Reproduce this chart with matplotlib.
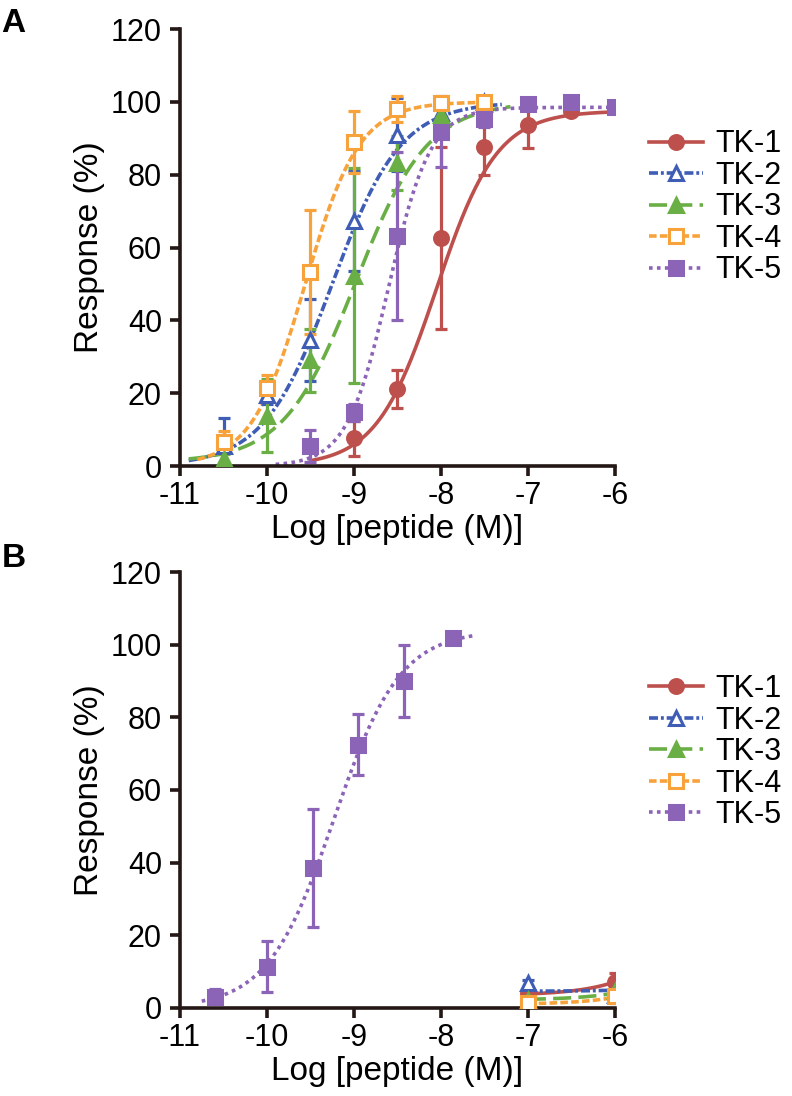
import numpy as np
import matplotlib
matplotlib.use('Agg')
import matplotlib.pyplot as plt
from matplotlib.lines import Line2D

plt.rcParams['font.family'] = ['Liberation Sans', 'DejaVu Sans']
plt.rcParams['axes.unicode_minus'] = False

names = ['TK-1', 'TK-2', 'TK-3', 'TK-4', 'TK-5']
colors = ['#BD504C', '#3F5DB5', '#6AAF45', '#F8A23C', '#8C64B7']
markers = ['o', '^', '^', 's', 's']
filled = [True, False, True, False, True]
dashes = [None, (2.5, 0.8, 0.8, 0.8), (5.0, 2.0), (2.1, 0.9), (1.0, 1.2)]

# panel A - measured points (log M, response %, sem)
a_x = {
    'TK-1': [-9.0, -8.5, -8.0, -7.5, -7.0, -6.5],
    'TK-2': [-10.5, -10.0, -9.5, -9.0, -8.5, -8.0, -7.5],
    'TK-3': [-10.5, -10.0, -9.5, -9.0, -8.5, -8.0, -7.5],
    'TK-4': [-10.5, -10.0, -9.5, -9.0, -8.5, -8.0, -7.5],
    'TK-5': [-9.5, -9.0, -8.5, -8.0, -7.5, -7.0, -6.5, -6.0],
}
a_y = {
    'TK-1': [7.6, 21.2, 62.5, 87.7, 93.7, 97.6],
    'TK-2': [5.5, 19.4, 34.6, 67.3, 91.0, 96.9, 100.0],
    'TK-3': [1.8, 13.8, 29.0, 52.3, 83.2, 96.5, 99.5],
    'TK-4': [6.5, 21.5, 53.2, 89.1, 98.0, 99.7, 100.0],
    'TK-5': [5.5, 14.7, 63.2, 91.8, 95.2, 99.4, 100.0, 98.7],
}
a_err = {
    'TK-1': [4.8, 5.3, 25.0, 7.7, 6.3, 1.0],
    'TK-2': [7.7, 2.5, 11.3, 13.7, 10.0, 1.5, 1.0],
    'TK-3': [1.5, 10.0, 8.7, 29.5, 7.4, 2.0, 1.0],
    'TK-4': [3.0, 3.5, 17.0, 8.5, 3.5, 1.0, 1.0],
    'TK-5': [4.4, 2.2, 23.0, 9.8, 2.0, 1.0, 1.0, 1.0],
}
# fitted curves: bottom, top, logEC50, hill, start, end
a_fit = {
    'TK-1': [0.0, 97.5, -8.05, 1.25, -9.5, -6.1],
    'TK-2': [0.0, 100.0, -9.25, 1.1, -10.9, -7.3],
    'TK-3': [1.0, 100.0, -8.98, 1.05, -10.9, -7.2],
    'TK-4': [0.0, 100.0, -9.56, 1.4, -10.8, -7.6],
    'TK-5': [0.0, 98.5, -8.6, 1.8, -9.9, -6.0],
}

# panel B
b_x = {
    'TK-1': [-7.0, -6.0],
    'TK-2': [-7.0, -6.0],
    'TK-3': [-7.0, -6.0],
    'TK-4': [-7.0, -6.0],
    'TK-5': [-10.6, -10.0, -9.47, -8.95, -8.42, -7.86],
}
b_y = {
    'TK-1': [4.0, 7.2],
    'TK-2': [6.8, 3.7],
    'TK-3': [2.2, 4.6],
    'TK-4': [1.3, 3.2],
    'TK-5': [3.1, 11.4, 38.5, 72.5, 90.0, 101.8],
}
b_err = {
    'TK-1': [1.0, 2.3],
    'TK-2': [1.0, 2.4],
    'TK-3': [0.8, 1.0],
    'TK-4': [0.8, 1.0],
    'TK-5': [2.0, 7.0, 16.2, 8.5, 10.0, 1.5],
}
b_fit = {
    'TK-1': [3.5, 100.0, -4.6, 1.0, -7.0, -6.0],
    'TK-2': [4.6, 100.0, -3.5, 1.0, -7.0, -6.0],
    'TK-3': [2.2, 100.0, -4.3, 1.0, -7.0, -6.0],
    'TK-4': [1.0, 100.0, -4.3, 1.0, -7.0, -6.0],
    'TK-5': [0.0, 104.0, -9.23, 1.14, -10.75, -7.6],
}


def hill(x, bottom, top, ec50, h):
    return bottom + (top - bottom) / (1 + 10 ** ((ec50 - x) * h))


def draw_panel(ax, xs, ys, errs, fits):
    for i, n in enumerate(names):
        c = colors[i]
        b, t, ec, h, x0, x1 = fits[n]
        xx = np.linspace(x0, x1, 200)
        ln, = ax.plot(xx, hill(xx, b, t, ec, h), color=c, lw=2.6, zorder=2)
        if dashes[i] is not None:
            ln.set_dashes(dashes[i])
        ax.errorbar(xs[n], ys[n], yerr=errs[n], fmt='none', ecolor=c,
                    elinewidth=2.3, capsize=4.0, capthick=2.3, zorder=3)
        ax.plot(xs[n], ys[n], ls='none', marker=markers[i], ms=10,
                mfc=c if filled[i] else 'white', mec=c, mew=2.2, zorder=4)

    ax.set_xlim(-11, -6)
    ax.set_ylim(0, 120)
    ax.set_xticks([-11, -10, -9, -8, -7, -6])
    ax.set_yticks([0, 20, 40, 60, 80, 100, 120])
    for s in ['top', 'right']:
        ax.spines[s].set_visible(False)
    for s in ['left', 'bottom']:
        ax.spines[s].set_linewidth(2.6)
        ax.spines[s].set_color('#231815')
    ax.tick_params(width=2.6, length=7, color='#231815', labelsize=22)
    ax.tick_params(axis='y', pad=6)
    ax.tick_params(axis='x', pad=4)
    ax.set_xlabel('Log [peptide (M)]', fontsize=24, labelpad=2)
    ax.set_ylabel('Response (%)', fontsize=24, labelpad=4)


def legend_handles():
    hs = []
    for i, n in enumerate(names):
        l = Line2D([0], [0], color=colors[i], lw=2.6, marker=markers[i], ms=10,
                   mfc=colors[i] if filled[i] else 'white', mec=colors[i], mew=2.2)
        if dashes[i] is not None:
            l.set_dashes(dashes[i])
        hs.append(l)
    return hs


fig = plt.figure(figsize=(7.92, 10.96), dpi=100)
ax_a = fig.add_axes([0.2273, 0.5748, 0.549, 0.3987])
ax_b = fig.add_axes([0.2273, 0.0803, 0.549, 0.3978])

draw_panel(ax_a, a_x, a_y, a_err, a_fit)
draw_panel(ax_b, b_x, b_y, b_err, b_fit)

for top in [0.882, 0.385]:
    fig.legend(legend_handles(), names, loc='upper left', bbox_to_anchor=(0.820, top),
               frameon=False, fontsize=22, handlelength=1.75, handletextpad=0.4,
               labelspacing=0.05, borderpad=0, borderaxespad=0)

fig.text(0.002, 0.993, 'A', fontsize=24, fontweight='bold', va='top', ha='left')
fig.text(0.002, 0.505, 'B', fontsize=24, fontweight='bold', va='top', ha='left')

fig.savefig('out.png', dpi=100)
